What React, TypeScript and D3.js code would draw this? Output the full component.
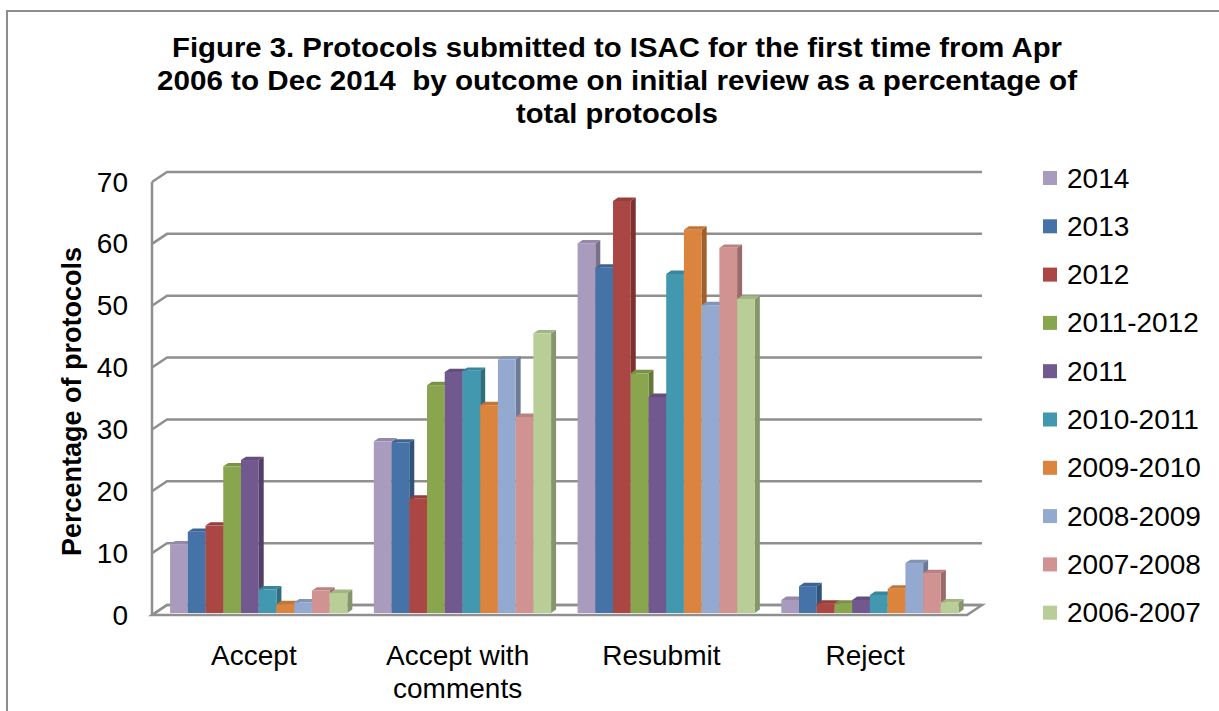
import React from "react";
import * as d3 from "d3";

const categories = ["Accept", "Accept with comments", "Resubmit", "Reject"];
const categoryLines = [["Accept"], ["Accept with", "comments"], ["Resubmit"], ["Reject"]];
const seriesNames = ["2014", "2013", "2012", "2011-2012", "2011", "2010-2011", "2009-2010", "2008-2009", "2007-2008", "2006-2007"];
const seriesColors = ["#A99BBD", "#4572A7", "#AA4643", "#89A54E", "#71588F", "#4198AF", "#DB843D", "#93A9CF", "#D19392", "#B9CD96"];

// values per category, in series order
const accept = [11, 13, 14, 23.5, 24.5, 3.8, 1.4, 1.7, 3.6, 3.2];
const acceptWithComments = [27.5, 27.3, 18.3, 36.5, 38.6, 38.8, 33.3, 40.6, 31.4, 44.8];
const resubmit = [59.2, 55.3, 66, 38.4, 34.6, 54.3, 61.4, 49.3, 58.5, 50.3];
const reject = [2.1, 4.3, 1.5, 1.5, 2.1, 2.9, 3.9, 8, 6.4, 1.7];
const valuesByCategory = [accept, acceptWithComments, resubmit, reject];

const yTicks = [0, 10, 20, 30, 40, 50, 60, 70];
const titleLines = [
  "Figure 3. Protocols submitted to ISAC for the first time from Apr",
  "2006 to Dec 2014  by outcome on initial review as a percentage of",
  "total protocols",
];
const titleWidths = [890, 920, 202];

const FONT = "'Liberation Sans', Arial, Helvetica, sans-serif";

export default function App() {
  const W = 1219, H = 711;
  const frontLeft = 152, frontRight = 967;
  const DX = 15, DY = -10; // floor depth offsets
  const yFront = d3.scaleLinear().domain([0, 70]).range([615, 182]);
  const yBar = d3.scaleLinear().domain([0, 70]).range([613, 176]);
  const barShiftX = 3;
  const x0 = d3.scaleBand<string>().domain(categories).range([frontLeft + barShiftX, frontRight + barShiftX]).paddingInner(0).paddingOuter(0);
  const groupOffset = x0.bandwidth() * 0.074;
  const groupWidth = x0.bandwidth() * 0.87;
  const x1 = d3.scaleBand<string>().domain(seriesNames).range([0, groupWidth]).padding(0);
  const bdx = 5, bdy = -3.4;

  const gridColor = "#8f8f8f";

  const bars: React.ReactNode[] = [];
  categories.forEach((cat, ci) => {
    seriesNames.forEach((s, si) => {
      const v = valuesByCategory[ci][si];
      const xl = (x0(cat) as number) + groupOffset + (x1(s) as number);
      const w = x1.bandwidth();
      const xr = xl + w;
      const yt = yBar(v);
      const yb = yBar(0);
      const c = d3.color(seriesColors[si])!;
      const side = c.darker(0.9).formatHex();
      const top = d3.color(seriesColors[si])!.darker(0.35).formatHex();
      bars.push(
        <g key={`${ci}-${si}`}>
          <polygon points={`${xr},${yb} ${xr + bdx},${yb + bdy} ${xr + bdx},${yt + bdy} ${xr},${yt}`} fill={side} />
          <polygon points={`${xl},${yt} ${xr},${yt} ${xr + bdx},${yt + bdy} ${xl + bdx},${yt + bdy}`} fill={top} />
          <rect x={xl} y={yt} width={w} height={yb - yt} fill={seriesColors[si]} />
        </g>
      );
    });
  });

  return (
    <svg width={W} height={H} style={{ position: "absolute", left: 0, top: 0, background: "#fff" }} fontFamily={FONT}>
      <rect x={7} y={11} width={W + 20} height={H + 20} fill="#fff" stroke="#8c8c8c" strokeWidth={2} />
      {titleLines.map((t, i) => (
        <text key={i} x={617} y={57 + i * 33} textAnchor="middle" fontSize={28} fontWeight="bold" fill="#000"
          textLength={titleWidths[i]} lengthAdjust="spacingAndGlyphs" style={{ whiteSpace: "pre" }}>
          {t}
        </text>
      ))}
      {/* walls & gridlines */}
      <g fill="none" stroke={gridColor} strokeWidth={2.5}>
        {yTicks.map((t) => (
          <polyline key={t} points={`${frontLeft},${yFront(t)} ${frontLeft + DX},${yFront(t) + DY} ${frontRight + DX},${yFront(t) + DY}`} />
        ))}
        <line x1={frontLeft} y1={yFront(70)} x2={frontLeft} y2={yFront(0)} />
        <polygon points={`${frontLeft},${yFront(0)} ${frontRight},${yFront(0)} ${frontRight + DX},${yFront(0) + DY} ${frontLeft + DX},${yFront(0) + DY}`} />
      </g>
      {bars}
      {/* y tick labels */}
      {yTicks.map((t) => (
        <text key={t} x={128} y={yFront(t)} textAnchor="end" dominantBaseline="central" fontSize={28} fill="#000">
          {t}
        </text>
      ))}
      <text transform={`translate(72,${(yFront(0) + yFront(70)) / 2 + 3}) rotate(-90)`} textAnchor="middle" dominantBaseline="central" fontSize={27} fontWeight="bold" fill="#000">
        Percentage of protocols
      </text>
      {/* category labels */}
      {categories.map((cat, ci) => {
        const cx = (x0(cat) as number) - barShiftX + x0.bandwidth() / 2;
        return categoryLines[ci].map((ln, li) => (
          <text key={`${ci}-${li}`} x={cx} y={655 + li * 33} textAnchor="middle" dominantBaseline="central" fontSize={28} fill="#000">
            {ln}
          </text>
        ));
      })}
      {/* legend */}
      {seriesNames.map((s, i) => {
        const cy = 178 + i * 48.3;
        return (
          <g key={s}>
            <rect x={1043} y={cy - 7} width={14} height={14} fill={seriesColors[i]} />
            <text x={1067} y={cy} dominantBaseline="central" fontSize={28} fill="#000">
              {s}
            </text>
          </g>
        );
      })}
    </svg>
  );
}
